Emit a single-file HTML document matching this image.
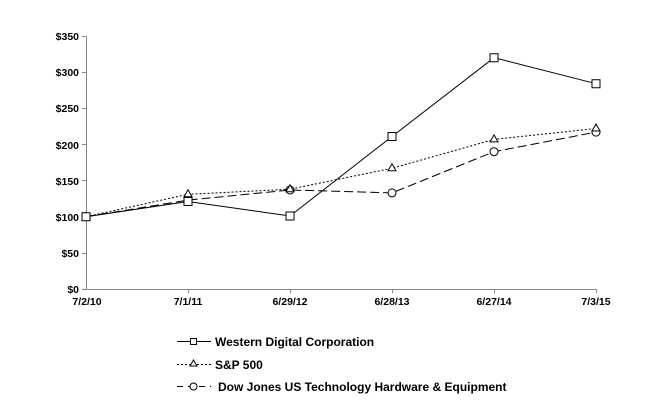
<!DOCTYPE html>
<html><head><meta charset="utf-8"><style>
html,body{margin:0;padding:0;background:#fff;width:651px;height:412px;overflow:hidden}
svg text{font-family:"Liberation Sans",Arial,sans-serif;font-weight:bold;font-size:10.5px;fill:#000}
svg text.lg{font-size:12px}
</style></head><body>
<svg width="651" height="412" viewBox="0 0 651 412" xmlns="http://www.w3.org/2000/svg">
<g stroke="#888" stroke-width="1" fill="none">
<line x1="86.5" y1="36" x2="86.5" y2="289.5"/>
<line x1="86" y1="289.5" x2="596.5" y2="289.5"/>
<line x1="82" y1="36.5" x2="86" y2="36.5"/><line x1="82" y1="72.5" x2="86" y2="72.5"/>
<line x1="82" y1="108.5" x2="86" y2="108.5"/><line x1="82" y1="144.5" x2="86" y2="144.5"/>
<line x1="82" y1="180.5" x2="86" y2="180.5"/><line x1="82" y1="216.5" x2="86" y2="216.5"/>
<line x1="82" y1="253.5" x2="86" y2="253.5"/><line x1="82" y1="289.5" x2="86" y2="289.5"/>
<line x1="188.5" y1="289" x2="188.5" y2="293"/><line x1="290.5" y1="289" x2="290.5" y2="293"/>
<line x1="392.5" y1="289" x2="392.5" y2="293"/><line x1="494.5" y1="289" x2="494.5" y2="293"/>
<line x1="596.5" y1="289" x2="596.5" y2="293"/>
</g>
<g text-anchor="end">
<text x="79" y="40">$350</text><text x="79" y="76">$300</text><text x="79" y="112">$250</text>
<text x="79" y="149">$200</text><text x="79" y="185">$150</text><text x="79" y="221">$100</text>
<text x="79" y="257">$50</text><text x="79" y="293">$0</text>
</g>
<g text-anchor="middle">
<text x="87" y="305">7/2/10</text><text x="188" y="305">7/1/11</text><text x="290" y="305">6/29/12</text>
<text x="392" y="305">6/28/13</text><text x="494" y="305">6/27/14</text><text x="596" y="305">7/3/15</text>
</g>
<g fill="none" stroke="#000" stroke-width="1">
<polyline points="86,216.7 188,201.5 290,216 392,136.5 494,57.7 596,83.7"/>
<polyline points="86,216.7 188,194.3 290,189.2 392,168.3 494,139.4 596,128.5" stroke-dasharray="2,2"/>
<polyline points="86,216.7 188,200.1 290,190 392,192.9 494,151.7 596,132.1" stroke-dasharray="9,4"/>
</g>
<g fill="#fff" stroke="#000" stroke-width="1">
<circle cx="86" cy="216.7" r="4"/><circle cx="188" cy="200.1" r="4"/><circle cx="290" cy="190" r="4"/>
<circle cx="392" cy="192.9" r="4"/><circle cx="494" cy="151.7" r="4"/><circle cx="596" cy="132.1" r="4"/>
<path d="M86,212.2 l4,7 h-8z M188,189.8 l4,7 h-8z M290,184.7 l4,7 h-8z M392,163.8 l4,7 h-8z M494,134.9 l4,7 h-8z M596,124 l4,7 h-8z"/>
<path d="M82,212.7h8v8h-8z M184,197.5h8v8h-8z M286,212h8v8h-8z M388,132.5h8v8h-8z M490,53.7h8v8h-8z M592,79.7h8v8h-8z"/>
</g>
<g stroke="#000" stroke-width="1" fill="#fff">
<line x1="177" y1="341.5" x2="211" y2="341.5"/>
<rect x="190.5" y="338.5" width="6" height="6"/>
<line x1="177" y1="364.5" x2="211" y2="364.5" stroke-dasharray="2,2"/>
<path d="M193.5,360 l3.5,6 h-7z"/>
<line x1="177" y1="386.5" x2="211" y2="386.5" stroke-dasharray="6,5"/>
<circle cx="193.5" cy="386.5" r="3.5"/>
</g>
<text class="lg" x="215" y="346">Western Digital Corporation</text>
<text class="lg" x="215" y="369">S&amp;P 500</text>
<text class="lg" x="218" y="391">Dow Jones US Technology Hardware &amp; Equipment</text>
</svg>
</body></html>
